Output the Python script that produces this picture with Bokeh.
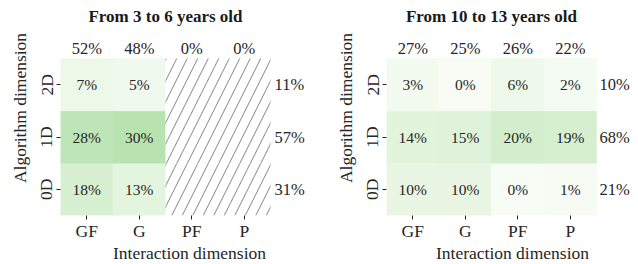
from bokeh.plotting import figure
from bokeh.layouts import row
from bokeh.models import FixedTicker, Range1d
from bokeh.embed import file_html
from bokeh.resources import INLINE
from bokeh.core.properties import value

# ---- data ----
interaction = ["GF", "G", "PF", "P"]
algorithm = ["0D", "1D", "2D"]

young_title = "From 3 to 6 years old"
young_0D = [18, 13, None, None]
young_1D = [28, 30, None, None]
young_2D = [7, 5, None, None]
young_col_totals = [52, 48, 0, 0]
young_row_totals = [31, 57, 11]  # 0D, 1D, 2D

old_title = "From 10 to 13 years old"
old_0D = [10, 10, 0, 1]
old_1D = [14, 15, 20, 19]
old_2D = [3, 0, 6, 2]
old_col_totals = [27, 25, 26, 22]
old_row_totals = [21, 68, 10]

# ---- style ----
FONT = "Liberation Serif"
TXT = "#262626"
CW, RH = 52.5, 52.3
TOP_PAD = 58
FRAME_H = 215
GREENS = ['#f7fcf5', '#e5f5e0', '#c7e9c0', '#a1d99b', '#74c476',
          '#41ab5d', '#238b45', '#006d2c', '#00441b']


def hex2rgb(h):
    return [int(h[i:i + 2], 16) for i in (1, 3, 5)]


def cmap(v):
    t = max(0.0, min(1.0, v / 100.0)) * (len(GREENS) - 1)
    i = min(int(t), len(GREENS) - 2)
    f = t - i
    a, b = hex2rgb(GREENS[i]), hex2rgb(GREENS[i + 1])
    c = [round(a[k] + (b[k] - a[k]) * f) for k in range(3)]
    return "#%02x%02x%02x" % tuple(c)


def panel(title, rows, col_tot, row_tot, frame_w, border_left, right_off):
    p = figure(frame_width=frame_w, frame_height=FRAME_H,
               x_range=Range1d(-0.5, -0.5 + frame_w / CW),
               y_range=Range1d(-0.5, -0.5 + FRAME_H / RH),
               output_backend="svg", toolbar_location=None,
               min_border_left=border_left, min_border_right=0,
               min_border_top=0, min_border_bottom=49)
    p.outline_line_color = None
    p.grid.grid_line_color = None
    p.background_fill_color = "white"

    xs, ys, cols, labs = [], [], [], []
    hx, hy = [], []
    for r, vals in enumerate(rows):
        for c, v in enumerate(vals):
            if v is None:
                hx.append(c)
                hy.append(r)
            else:
                xs.append(c)
                ys.append(r)
                cols.append(cmap(v))
                labs.append(f"{v}%")
    p.rect(x=xs, y=ys, width=1, height=1, fill_color=cols, line_color=cols, line_width=0.5)
    if hx:
        p.rect(x=hx, y=hy, width=1, height=1, fill_color="white", line_color=None,
               hatch_pattern="/", hatch_color="#666666", hatch_weight=0.8, hatch_scale=21)
    p.text(x=xs, y=ys, text=labs, text_align="center", text_baseline="middle",
           text_font=value(FONT), text_font_size="15.5px", text_color=TXT)

    top = len(rows) - 0.5
    p.text(x=list(range(len(col_tot))), y=[top] * len(col_tot),
           text=[f"{v}%" for v in col_tot], text_align="center", text_baseline="middle",
           y_offset=-10, text_font=value(FONT), text_font_size="16.5px", text_color=TXT)
    right = len(col_tot) - 0.5
    p.text(x=[right] * len(row_tot), y=list(range(len(row_tot))),
           text=[f"{v}%" for v in row_tot], text_align="left", text_baseline="middle",
           x_offset=right_off, text_font=value(FONT), text_font_size="16.5px", text_color=TXT)
    p.text(x=[(len(col_tot) - 1) / 2], y=[top], text=[title], text_align="center",
           text_baseline="middle", y_offset=-42, text_font=value(FONT),
           text_font_size="17px", text_font_style="bold", text_color="#1a1a1a")

    xa = p.xaxis[0]
    xa.ticker = FixedTicker(ticks=list(range(len(interaction))))
    xa.major_label_overrides = {i: n for i, n in enumerate(interaction)}
    xa.axis_label = "Interaction dimension"
    ya = p.yaxis[0]
    ya.ticker = FixedTicker(ticks=list(range(len(algorithm))))
    ya.major_label_overrides = {i: n for i, n in enumerate(algorithm)}
    ya.axis_label = "Algorithm dimension"
    ya.major_label_orientation = "vertical"
    for ax in (xa, ya):
        ax.axis_line_color = None
        ax.minor_tick_line_color = None
        ax.major_tick_in = 0
        ax.major_tick_out = 4
        ax.major_tick_line_color = TXT
        ax.major_label_text_font = FONT
        ax.major_label_text_font_size = "17.5px"
        ax.major_label_text_color = TXT
        ax.axis_label_text_font = FONT
        ax.axis_label_text_font_size = "17.5px"
        ax.axis_label_text_font_style = "normal"
        ax.axis_label_text_color = TXT
    xa.major_label_standoff = 1
    xa.axis_label_standoff = -1
    ya.major_label_standoff = 0
    ya.axis_label_standoff = 4
    return p


p1 = panel(young_title, [young_0D, young_1D, young_2D], young_col_totals,
           young_row_totals, 258, 60, 4)
p2 = panel(old_title, [old_0D, old_1D, old_2D], old_col_totals,
           old_row_totals, 252, 68, 3)

layout = row(p1, p2)
open("out.html", "w").write(file_html(layout, INLINE))
